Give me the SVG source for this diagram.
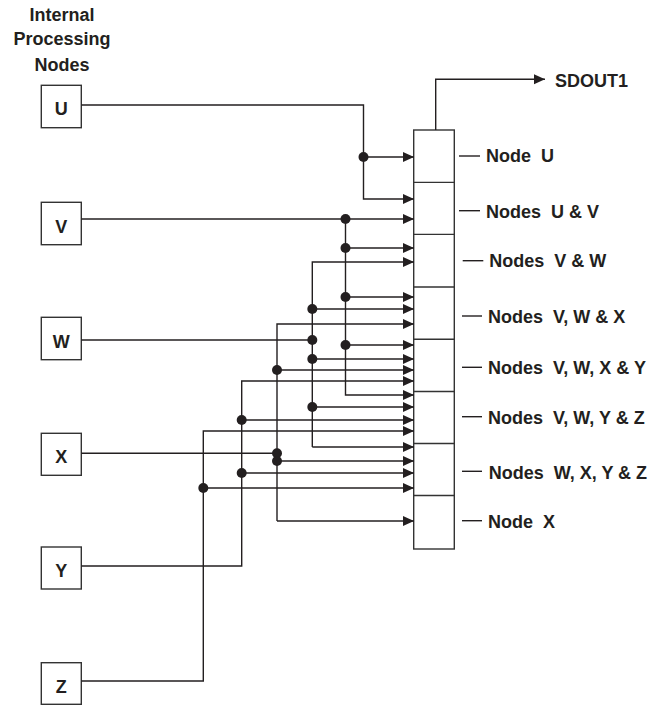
<svg xmlns="http://www.w3.org/2000/svg" width="665" height="709" viewBox="0 0 665 709">
<defs>
<style>
text{font-family:"Liberation Sans",Arial,sans-serif;font-weight:bold;font-size:18px;fill:#231f20}
.box{fill:#fff;stroke:#333;stroke-width:1.4}
.ln{fill:none;stroke:#231f20;stroke-width:1.4}
.ar{fill:none;stroke:#231f20;stroke-width:1.4;marker-end:url(#ah)}
.dot{fill:#231f20}
.mid{text-anchor:middle}
</style>
<marker id="ah" markerUnits="userSpaceOnUse" markerWidth="12" markerHeight="11" refX="11" refY="5" orient="auto">
<path d="M0,0 L11,5 L0,10 z" fill="#231f20"/>
</marker>
</defs>
<rect width="665" height="709" fill="#fff"/>
<g id="title">
<text class="mid" x="62" y="20.5">Internal</text>
<text class="mid" x="62" y="45">Processing</text>
<text class="mid" x="62" y="71">Nodes</text>
</g>
<g id="node-U"><rect class="box" x="41.3" y="85.3" width="40" height="42.4"/><text class="mid" x="61.3" y="114.5">U</text></g>
<g id="node-V"><rect class="box" x="41.3" y="202.3" width="40" height="42.4"/><text class="mid" x="61.3" y="232.5">V</text></g>
<g id="node-W"><rect class="box" x="41.3" y="317.3" width="40" height="42.4"/><text class="mid" x="61.3" y="347.5">W</text></g>
<g id="node-X"><rect class="box" x="41.3" y="433.3" width="40" height="42"/><text class="mid" x="61.3" y="463">X</text></g>
<g id="node-Y"><rect class="box" x="41.3" y="547" width="40" height="42"/><text class="mid" x="61.3" y="577">Y</text></g>
<g id="node-Z"><rect class="box" x="41.3" y="662.7" width="40" height="41.6"/><text class="mid" x="61.3" y="692.5">Z</text></g>
<g id="output-column">
<rect class="box" x="413.7" y="130" width="40.6" height="419"/>
<path class="ln" d="M413.7,182.4H454.3M413.7,234.4H454.3M413.7,287H454.3M413.7,339.3H454.3M413.7,391.5H454.3M413.7,443.5H454.3M413.7,495.5H454.3" style="stroke:#333"/>
</g>
<g id="label-U"><path class="ln" d="M459,156H480"/><text x="486" y="161.7" xml:space="preserve">Node  U</text></g>
<g id="label-UV"><path class="ln" d="M459,210.7H480"/><text x="486" y="218" xml:space="preserve">Nodes  U &amp; V</text></g>
<g id="label-VW"><path class="ln" d="M462.7,260.7H483.3"/><text x="489.3" y="267" xml:space="preserve">Nodes  V &amp; W</text></g>
<g id="label-VWX"><path class="ln" d="M462,316H482"/><text x="488" y="323" xml:space="preserve">Nodes  V, W &amp; X</text></g>
<g id="label-VWXY"><path class="ln" d="M462,367.3H482"/><text x="488" y="374" xml:space="preserve">Nodes  V, W, X &amp; Y</text></g>
<g id="label-VWYZ"><path class="ln" d="M462,416.7H482"/><text x="488" y="424" xml:space="preserve">Nodes  V, W, Y &amp; Z</text></g>
<g id="label-WXYZ"><path class="ln" d="M462,471.3H482"/><text x="488.7" y="479" xml:space="preserve">Nodes  W, X, Y &amp; Z</text></g>
<g id="label-X"><path class="ln" d="M462,520.7H482"/><text x="488" y="527.7" xml:space="preserve">Node  X</text></g>
<g id="sdout"><text x="555" y="86.5">SDOUT1</text></g>
<g id="connectors">
<path class="ar" d="M435.7,130V79.3H545"/>
<!-- U -->
<path class="ar" d="M81.3,105H363.5V199H414"/>
<path class="ar" d="M363.5,157H414"/>
<!-- V -->
<path class="ar" d="M81.3,219H414"/>
<path class="ar" d="M345.5,219V395H414"/>
<path class="ar" d="M345.5,248H414"/>
<path class="ar" d="M345.5,297H414"/>
<path class="ar" d="M345.5,345H414"/>
<!-- W -->
<path class="ln" d="M81.3,340H312.3"/>
<path class="ar" d="M312.3,447V262H414"/>
<path class="ar" d="M312.3,447H414"/>
<path class="ar" d="M312.3,309H414"/>
<path class="ar" d="M312.3,359H414"/>
<path class="ar" d="M312.3,407H414"/>
<!-- X -->
<path class="ln" d="M81.3,453.3H277"/>
<path class="ar" d="M277,521V324H414"/>
<path class="ar" d="M277,521H414"/>
<path class="ar" d="M277,370H414"/>
<path class="ar" d="M277,461H414"/>
<!-- Y -->
<path class="ar" d="M81.3,566H241.7V381H414"/>
<path class="ar" d="M241.7,420H414"/>
<path class="ar" d="M241.7,473H414"/>
<!-- Z -->
<path class="ar" d="M81.3,681H203.3V431H414"/>
<path class="ar" d="M203.3,488H414"/>
<!-- junction dots -->
<circle class="dot" cx="363.5" cy="157" r="5"/>
<circle class="dot" cx="345.5" cy="219" r="5"/>
<circle class="dot" cx="345.5" cy="248" r="5"/>
<circle class="dot" cx="345.5" cy="297" r="5"/>
<circle class="dot" cx="345.5" cy="345" r="5"/>
<circle class="dot" cx="312.3" cy="309" r="5"/>
<circle class="dot" cx="312.3" cy="340" r="5"/>
<circle class="dot" cx="312.3" cy="359" r="5"/>
<circle class="dot" cx="312.3" cy="407" r="5"/>
<circle class="dot" cx="277" cy="370" r="5"/>
<circle class="dot" cx="277" cy="453.3" r="5"/>
<circle class="dot" cx="277" cy="461" r="5"/>
<circle class="dot" cx="241.7" cy="420" r="5"/>
<circle class="dot" cx="241.7" cy="473" r="5"/>
<circle class="dot" cx="203.3" cy="488" r="5"/>
</g>
</svg>
